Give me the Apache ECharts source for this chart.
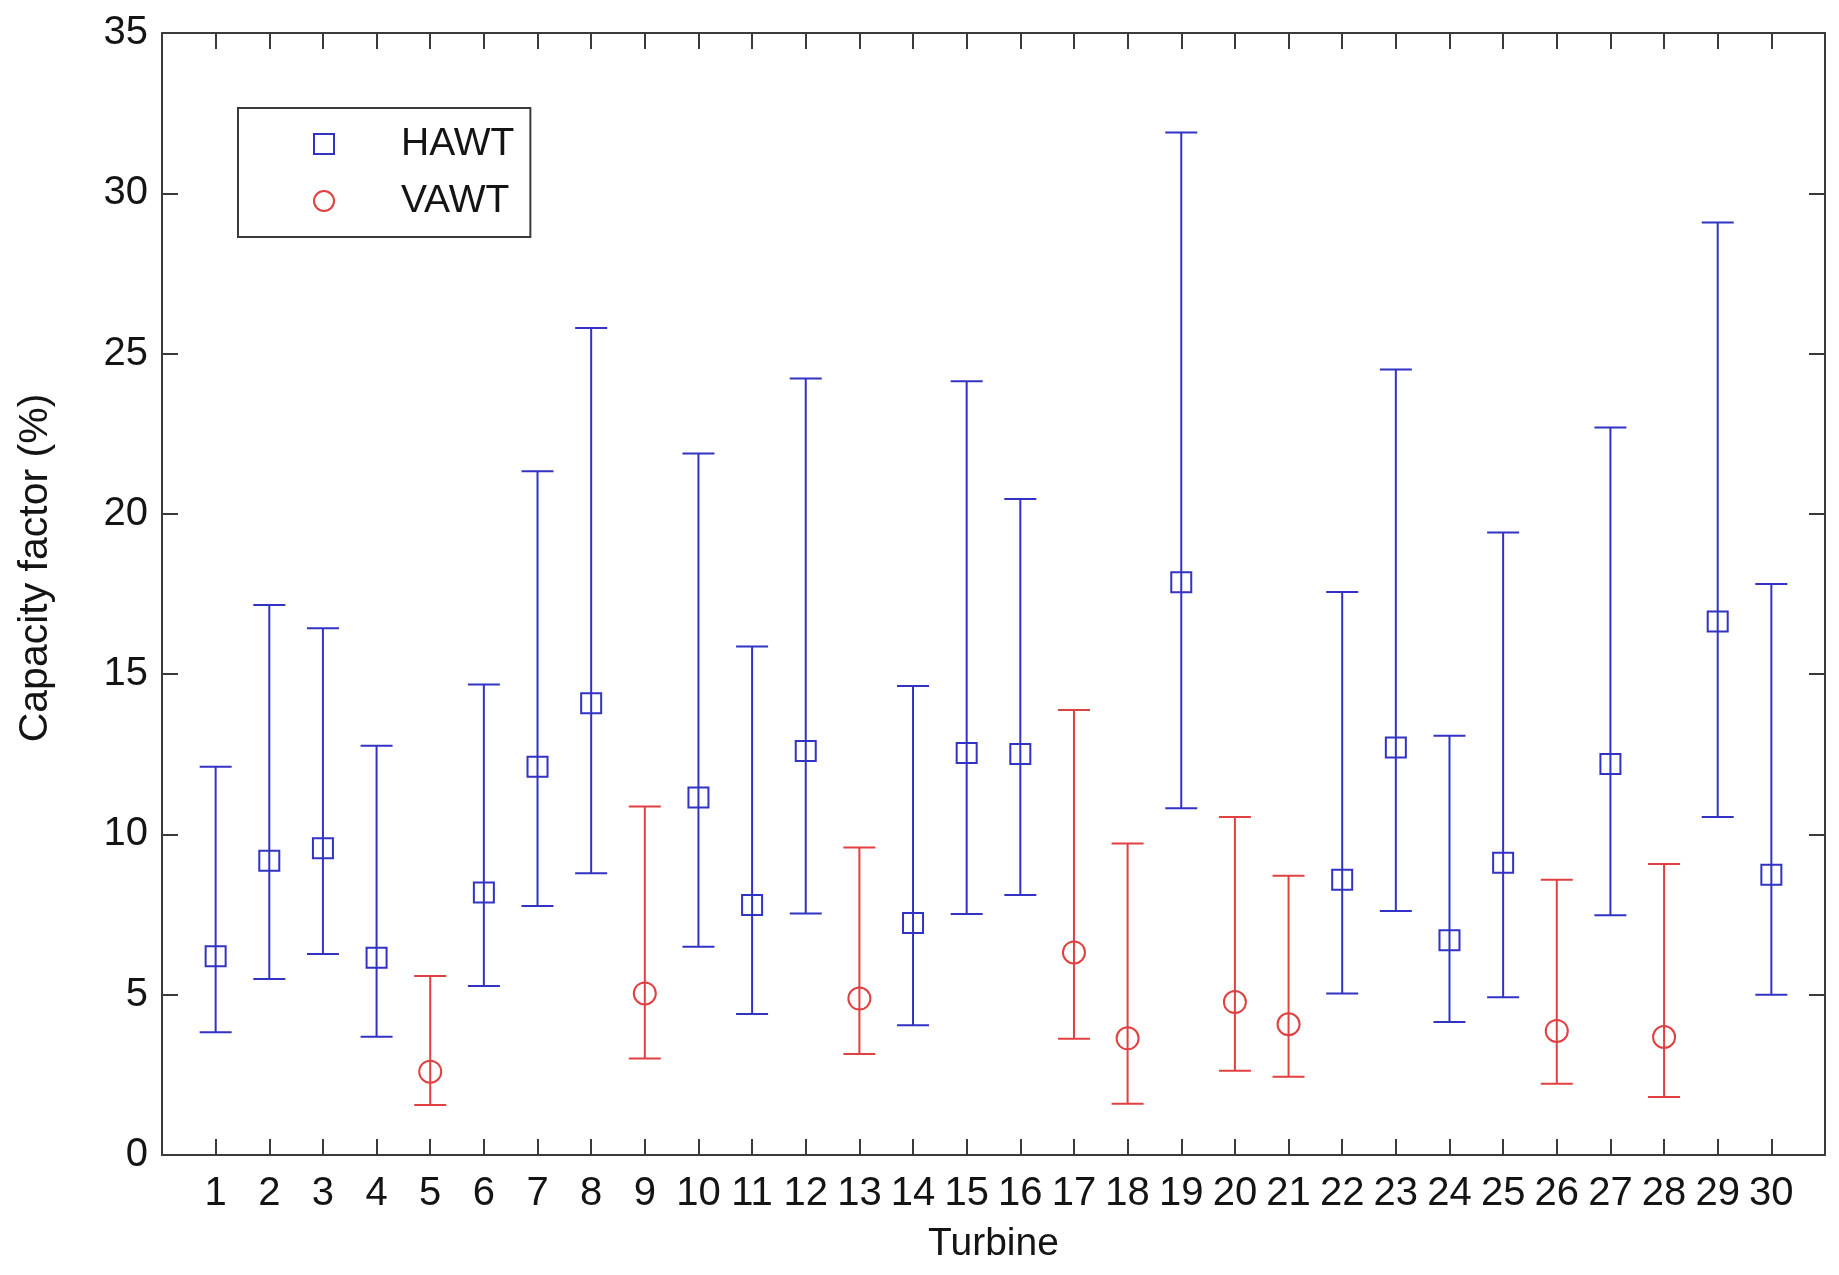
<!DOCTYPE html>
<html>
<head>
<meta charset="utf-8">
<script src="https://cdn.jsdelivr.net/npm/echarts@6/dist/echarts.min.js"></script>
<style>
html,body{margin:0;padding:0;background:#fff;}
#chart{width:1839px;height:1275px;}
</style>
</head>
<body>
<div id="chart"></div>
<script>
// ---- data ----
const turbines = [1,2,3,4,5,6,7,8,9,10,11,12,13,14,15,16,17,18,19,20,21,22,23,24,25,26,27,28,29,30];
const yTicks = [0,5,10,15,20,25,30,35];

const hawtTurbine = [1,2,3,4,6,7,8,10,11,12,14,15,16,19,22,23,24,25,27,29,30];
const hawtMean = [6.20,9.18,9.57,6.15,8.19,12.11,14.09,11.15,7.80,12.60,7.24,12.54,12.51,17.87,8.59,12.71,6.70,9.12,12.20,16.64,8.74];
const hawtLow  = [3.83,5.49,6.27,3.69,5.27,7.77,8.79,6.50,4.40,7.53,4.05,7.52,8.11,10.82,5.04,7.61,4.15,4.92,7.48,10.54,5.00];
const hawtHigh = [12.11,17.16,16.43,12.77,14.68,21.33,25.80,21.88,15.86,24.22,14.63,24.14,20.46,31.90,17.56,24.50,13.08,19.42,22.69,29.09,17.81];

const vawtTurbine = [5,9,13,17,18,20,21,26,28];
const vawtMean = [2.60,5.04,4.88,6.32,3.64,4.77,4.08,3.87,3.68];
const vawtLow  = [1.56,3.01,3.15,3.63,1.60,2.63,2.44,2.22,1.81];
const vawtHigh = [5.58,10.87,9.59,13.88,9.72,10.54,8.71,8.59,9.08];

// ---- styling ----
const BLUE = '#3232c4';
const RED = '#e04040';
const AXIS = '#3a3a3a';
const FONT = '"Liberation Sans", Arial, Helvetica, sans-serif';
const TXT = '#141414';

function errRender(params, api) {
  const x = api.value(0), lo = api.value(1), hi = api.value(2);
  const pLo = api.coord([x, lo]);
  const pHi = api.coord([x, hi]);
  const hw = 16;
  const st = { stroke: api.visual('color'), lineWidth: 2 };
  return {
    type: 'group',
    children: [
      { type: 'line', shape: { x1: pLo[0], y1: pLo[1], x2: pHi[0], y2: pHi[1] }, style: st },
      { type: 'line', shape: { x1: pLo[0] - hw, y1: pLo[1], x2: pLo[0] + hw, y2: pLo[1] }, style: st },
      { type: 'line', shape: { x1: pHi[0] - hw, y1: pHi[1], x2: pHi[0] + hw, y2: pHi[1] }, style: st }
    ]
  };
}

const tickStyle = { color: AXIS, width: 2 };

const chart = echarts.init(document.getElementById('chart'), null, { renderer: 'canvas' });
chart.setOption({
  animation: false,
  backgroundColor: '#ffffff',
  textStyle: { fontFamily: FONT },
  grid: { left: 162, top: 33, width: 1663, height: 1122, containLabel: false },
  legend: {
    left: 238, top: 108,
    orient: 'vertical',
    data: [
      { name: 'HAWT', icon: 'rect', itemStyle: { color: 'rgba(0,0,0,0)', borderColor: BLUE, borderWidth: 2 } },
      { name: 'VAWT', icon: 'circle', itemStyle: { color: 'rgba(0,0,0,0)', borderColor: RED, borderWidth: 2 } }
    ],
    itemWidth: 20, itemHeight: 20, itemGap: 17,
    padding: [16, 16, 16, 75],
    borderColor: AXIS, borderWidth: 2,
    backgroundColor: '#ffffff',
    textStyle: { fontFamily: FONT, fontSize: 39, color: TXT, lineHeight: 40, padding: [0, 0, 0, 62] }
  },
  xAxis: [
    {
      type: 'value', position: 'bottom', min: 0, max: 31, interval: 1,
      name: 'Turbine', nameLocation: 'middle', nameGap: 70,
      nameTextStyle: { fontFamily: FONT, fontSize: 39, color: TXT },
      axisLine: { show: true, onZero: false, lineStyle: { color: AXIS, width: 2 } },
      axisTick: { show: true, inside: true, length: 16, lineStyle: tickStyle, customValues: turbines },
      axisLabel: { show: true, margin: 19, fontFamily: FONT, fontSize: 40, color: TXT, customValues: turbines },
      splitLine: { show: false }
    },
    {
      type: 'value', position: 'top', min: 0, max: 31, interval: 1,
      axisLine: { show: true, onZero: false, lineStyle: { color: AXIS, width: 2 } },
      axisTick: { show: true, inside: true, length: 16, lineStyle: tickStyle, customValues: turbines },
      axisLabel: { show: false },
      splitLine: { show: false }
    }
  ],
  yAxis: [
    {
      type: 'value', position: 'left', min: 0, max: 35, interval: 5,
      name: 'Capacity factor (%)', nameLocation: 'middle', nameGap: 106, nameRotate: 90,
      nameTextStyle: { fontFamily: FONT, fontSize: 41, color: TXT, padding: [0, 0, 0, 52] },
      axisLine: { show: true, onZero: false, lineStyle: { color: AXIS, width: 2 } },
      axisTick: { show: true, inside: true, length: 16, lineStyle: tickStyle },
      axisLabel: { show: true, margin: 14, fontFamily: FONT, fontSize: 40, color: TXT, customValues: yTicks },
      splitLine: { show: false }
    },
    {
      type: 'value', position: 'right', min: 0, max: 35, interval: 5,
      axisLine: { show: true, onZero: false, lineStyle: { color: AXIS, width: 2 } },
      axisTick: { show: true, inside: true, length: 16, lineStyle: tickStyle },
      axisLabel: { show: false },
      splitLine: { show: false }
    }
  ],
  series: [
    {
      name: 'HAWT range', type: 'custom', renderItem: errRender,
      xAxisIndex: 0, yAxisIndex: 0,
      itemStyle: { color: BLUE },
      encode: { x: 0, y: [1, 2] },
      data: hawtTurbine.map((t, i) => [t, hawtLow[i], hawtHigh[i]]),
      z: 2
    },
    {
      name: 'VAWT range', type: 'custom', renderItem: errRender,
      xAxisIndex: 0, yAxisIndex: 0,
      itemStyle: { color: RED },
      encode: { x: 0, y: [1, 2] },
      data: vawtTurbine.map((t, i) => [t, vawtLow[i], vawtHigh[i]]),
      z: 2
    },
    {
      name: 'HAWT', type: 'scatter', symbol: 'rect', symbolSize: 20,
      xAxisIndex: 0, yAxisIndex: 0,
      itemStyle: { color: 'rgba(0,0,0,0)', borderColor: BLUE, borderWidth: 2, opacity: 1 },
      data: hawtTurbine.map((t, i) => [t, hawtMean[i]]),
      z: 3
    },
    {
      name: 'VAWT', type: 'scatter', symbol: 'circle', symbolSize: 22,
      xAxisIndex: 0, yAxisIndex: 0,
      itemStyle: { color: 'rgba(0,0,0,0)', borderColor: RED, borderWidth: 2, opacity: 1 },
      data: vawtTurbine.map((t, i) => [t, vawtMean[i]]),
      z: 3
    }
  ]
});
</script>
</body>
</html>
